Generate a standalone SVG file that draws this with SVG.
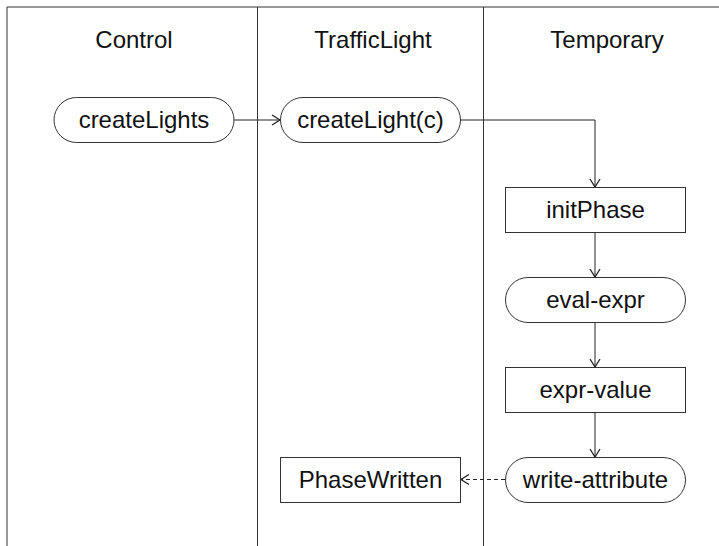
<svg xmlns="http://www.w3.org/2000/svg" width="719" height="546" viewBox="0 0 719 546">
<defs>
<style>
.frame{stroke:#333;stroke-width:1;fill:none}
.node{fill:#fff;stroke:#333;stroke-width:1}
.lbl{font-family:"Liberation Sans",Arial,sans-serif;font-size:24px;fill:#111;text-anchor:middle}
.edge{fill:none;stroke:#222;stroke-width:1}
.dash{stroke-dasharray:4,3}
</style>
<marker id="arr" markerUnits="userSpaceOnUse" markerWidth="12" markerHeight="12" viewBox="-10 -6 12 12" refX="0" refY="0" orient="auto">
<path d="M-8,-5 L0,0 L-8,5" fill="none" stroke="#222" stroke-width="1.3"/>
</marker>
</defs>
<rect width="719" height="546" fill="#fff"/>
<g id="lanes">
<path class="frame" d="M7,546 V7 H719 M257.5,7 V546 M483.5,7 V546"/>
<text class="lbl" x="134" y="48">Control</text>
<text class="lbl" x="373" y="48">TrafficLight</text>
<text class="lbl" x="607" y="48">Temporary</text>
</g>
<g id="edges">
<path class="edge" d="M234,120 H280" marker-end="url(#arr)"/>
<path class="edge" d="M461,120 H595 V187" marker-end="url(#arr)"/>
<path class="edge" d="M595,232 V277" marker-end="url(#arr)"/>
<path class="edge" d="M595,322 V367" marker-end="url(#arr)"/>
<path class="edge" d="M595,412 V457" marker-end="url(#arr)"/>
<path class="edge dash" d="M505,479.5 H461" marker-end="url(#arr)"/>
</g>
<g id="createLights">
<rect class="node" x="54" y="97.5" width="180" height="45" rx="22.5"/>
<text class="lbl" x="144" y="128">createLights</text>
</g>
<g id="createLight">
<rect class="node" x="280.5" y="97.5" width="180" height="45" rx="22.5"/>
<text class="lbl" x="370.5" y="128">createLight(c)</text>
</g>
<g id="initPhase">
<rect class="node" x="505.5" y="187.5" width="180" height="45"/>
<text class="lbl" x="595.5" y="218">initPhase</text>
</g>
<g id="eval-expr">
<rect class="node" x="505.5" y="277.5" width="180" height="45" rx="22.5"/>
<text class="lbl" x="595.5" y="308">eval-expr</text>
</g>
<g id="expr-value">
<rect class="node" x="505.5" y="367.5" width="180" height="45"/>
<text class="lbl" x="595.5" y="398">expr-value</text>
</g>
<g id="write-attribute">
<rect class="node" x="505.5" y="457.5" width="180" height="45" rx="22.5"/>
<text class="lbl" x="595.5" y="488">write-attribute</text>
</g>
<g id="PhaseWritten">
<rect class="node" x="280.5" y="457.5" width="180" height="45"/>
<text class="lbl" x="370.5" y="488">PhaseWritten</text>
</g>
</svg>
